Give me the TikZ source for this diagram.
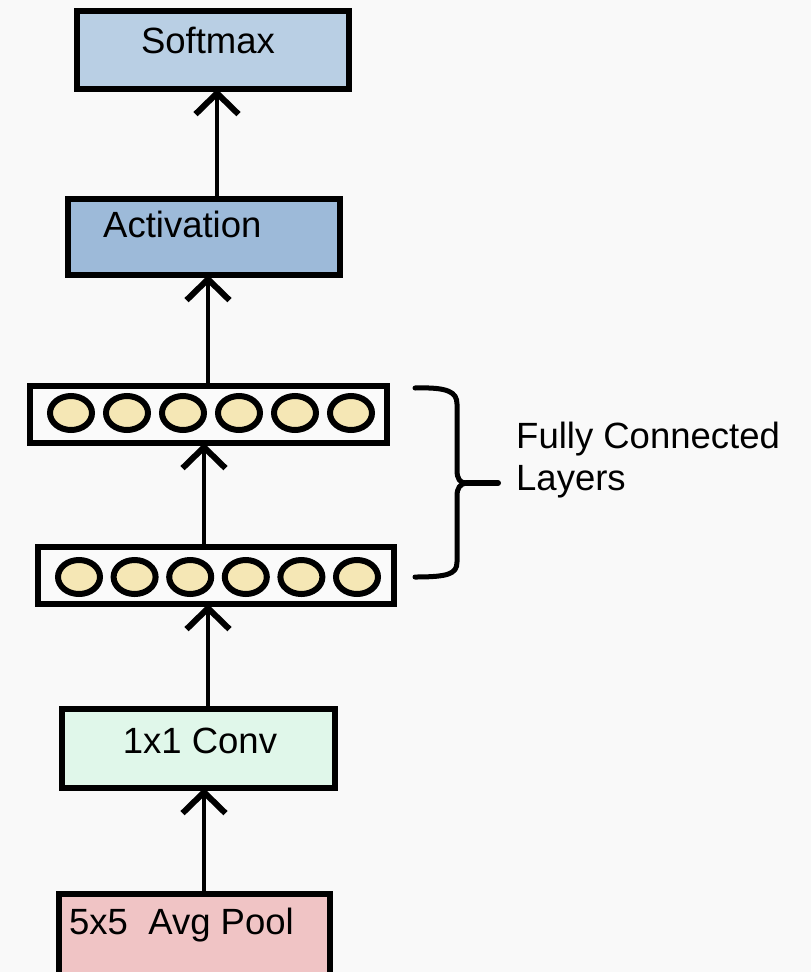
\documentclass[tikz,border=0pt]{standalone}
\usepackage{fontspec}
\setmainfont{Liberation Sans}
\usetikzlibrary{arrows.meta,shapes.geometric}

\definecolor{bg}{HTML}{F9F9F9}
\definecolor{softmaxfill}{HTML}{B9CFE4}
\definecolor{actfill}{HTML}{9DBAD9}
\definecolor{convfill}{HTML}{E0F7EA}
\definecolor{poolfill}{HTML}{F0C4C5}
\definecolor{unitfill}{HTML}{F5E7B5}
\definecolor{fcfill}{HTML}{FAFAFA}

\tikzset{
  layer/.style={draw=black, line width=5.5pt, rectangle, inner sep=0pt, outer sep=0pt},
  unit/.style={draw=black, line width=6pt, ellipse, fill=unitfill,
    minimum width=42pt, minimum height=34pt, inner sep=0pt},
  lbl/.style={font=\fontsize{36.5}{43}\selectfont, inner sep=0pt},
  flow/.style={line width=4pt, -{Straight Barb[length=21pt,width=43pt,line width=6pt]}},
  bracepath/.style={line width=5pt, line cap=round, line join=round},
}

\begin{document}
\begin{tikzpicture}[x=1pt, y=-1pt]
  \useasboundingbox (0,0) rectangle (811,972);
  \clip (0,0) rectangle (811,972);
  \fill[bg] (0,0) rectangle (811,972);

  % layer boxes
  \node[layer, fill=softmaxfill, minimum width=272pt, minimum height=78pt] (softmax) at (213,50) {};
  \node[layer, fill=actfill, minimum width=272pt, minimum height=76pt] (act) at (204,237) {};
  \node[layer, fill=fcfill, minimum width=357pt, minimum height=57pt] (fctop) at (208.5,414.5) {};
  \node[layer, fill=fcfill, minimum width=356pt, minimum height=57pt] (fcbot) at (216,575.5) {};
  \node[layer, fill=convfill, minimum width=273pt, minimum height=79pt] (conv) at (198.5,748.5) {};
  \node[layer, fill=poolfill, minimum width=271pt, minimum height=96pt] (pool) at (194.5,942) {};

  % neurons of the two fully connected layers
  \foreach \i in {0,...,5} {
    \node[unit] (t\i) at (71+56*\i,413) {};
    \node[unit] (b\i) at (79+55.6*\i,577) {};
  }

  % labels
  \node[lbl, anchor=base] (softmaxtext) at (208,53) {Softmax};
  \node[lbl, anchor=base west] (acttext) at (103,237) {Activation};
  \node[lbl, anchor=base] (convtext) at (200,753) {1x1 Conv};
  \node[lbl, anchor=base west] (pooltext) at (69,934) {5x5\ \ Avg Pool};
  \node[lbl, anchor=base west] (fc1) at (516,448) {Fully Connected};
  \node[lbl, anchor=base west] (fc2) at (516,490) {Layers};

  % connectors
  \coordinate (p1) at ([xshift=9.5pt]pool.north);
  \draw[flow] (p1) -- (p1 |- conv.south);
  \coordinate (p2) at ([xshift=9.5pt]conv.north);
  \draw[flow] (p2) -- (p2 |- fcbot.south);
  \coordinate (p3) at ([xshift=-12pt]fcbot.north);
  \draw[flow] (p3) -- (p3 |- fctop.south);
  \coordinate (p4) at ([xshift=-0.5pt]fctop.north);
  \draw[flow] (p4) -- (p4 |- act.south);
  \coordinate (p5) at ([xshift=13pt]act.north);
  \draw[flow] (p5) -- (p5 |- softmax.south);

  % brace grouping the fully connected layers
  \coordinate (bracetip) at (498,483);
  \draw[bracepath] (415,388) .. controls (448,387) and (457,392) .. (457,404)
    -- (457,470) .. controls (457,479) and (460,483) .. (466,483)
    .. controls (460,484) and (457,488) .. (457,496)
    -- (457,562) .. controls (457,574) and (448,577) .. (415,577);
  \draw[line width=6pt, line cap=round] (466,483) -- (bracetip);
\end{tikzpicture}
\end{document}
